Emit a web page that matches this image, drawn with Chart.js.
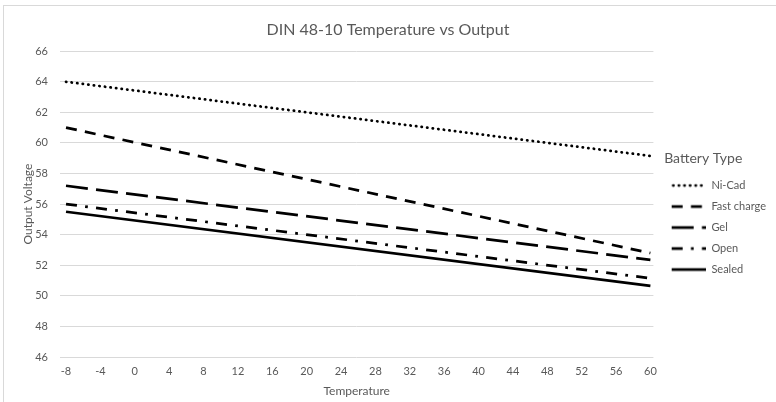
<!DOCTYPE html>
<html>
<head>
<meta charset="utf-8">
<script src="https://cdn.jsdelivr.net/npm/chart.js@4.4.1/dist/chart.umd.min.js"></script>
<style>
    html, body { margin: 0; padding: 0; background: #fff; }
    #wrap { position: relative; width: 776px; height: 402px; overflow: hidden; }
    #frame { position: absolute; left: 3px; top: 5px; width: 800px; height: 420px;
             border-left: 1px solid #d9d9d9; border-top: 1px solid #d9d9d9; }
    #grafico { position: absolute; left: 0; top: 0; }
</style>
</head>
<body>
<div id="wrap">
    <div id="frame"></div>
    <canvas id="grafico" width="776" height="402"></canvas>
</div>
<script>
// ==========================================
// DIN 48-10 Temperature vs Output
// ==========================================

const temperature = [-8, 60];
const xTicks = [-8, -4, 0, 4, 8, 12, 16, 20, 24, 28, 32, 36, 40, 44, 48, 52, 56, 60];

const niCad = [64, 59.15];
const fastCharge = [61, 52.8];
const gel = [57.2, 52.35];
const open = [56, 51.15];
const sealed = [55.5, 50.65];

const grey = "#595959";
const fontFam = "Lato, 'Open Sans', sans-serif";
const lw = 2.75;

function pts(values) {
    return values.map((v, i) => ({ x: temperature[i], y: v }));
}

// small picture of the line style for the legend
function sample(dash, cap) {
    const c = document.createElement("canvas");
    c.width = 42;
    c.height = 8;
    const g = c.getContext("2d");
    g.strokeStyle = "#000";
    g.lineWidth = lw;
    g.lineCap = cap;
    g.setLineDash(dash);
    g.beginPath();
    g.moveTo(cap === "round" ? 9.5 : 8, 4);
    g.lineTo(42, 4);
    g.stroke();
    return c;
}

function serie(label, values, dash, cap) {
    cap = cap || "butt";
    return {
        label: label,
        data: pts(values),
        borderColor: "#000",
        backgroundColor: "#000",
        borderWidth: lw,
        borderDash: dash,
        borderCapStyle: cap,
        pointRadius: 0,
        pointStyle: sample(dash, cap),
        tension: 0
    };
}

const ctx = document.getElementById("grafico");

new Chart(ctx, {
    type: "line",
    data: {
        datasets: [
            serie("Ni-Cad", niCad, [0.3, 5.3], "round"),
            serie("Fast charge", fastCharge, [11, 8.25]),
            serie("Gel", gel, [22, 8.25]),
            serie("Open", open, [11, 8.25, 2.75, 8.25]),
            serie("Sealed", sealed, [])
        ]
    },
    options: {
        responsive: false,
        animation: false,
        layout: {
            padding: { top: 8, right: 0, bottom: 0, left: 0 }
        },
        plugins: {
            title: {
                display: true,
                text: "DIN 48-10 Temperature vs Output",
                color: grey,
                font: { family: fontFam, size: 16, weight: "normal" },
                padding: { top: 12, bottom: 12 }
            },
            legend: {
                position: "right",
                title: {
                    display: true,
                    position: "start",
                    text: "   Battery Type",
                    color: grey,
                    font: { family: fontFam, size: 14 },
                    padding: { top: 26, bottom: 2 }
                },
                labels: {
                    usePointStyle: true,
                    pointStyleWidth: 42.5,
                    boxHeight: 8,
                    color: grey,
                    padding: 10,
                    font: { family: fontFam, size: 11 }
                }
            },
            tooltip: { enabled: false }
        },
        scales: {
            x: {
                type: "linear",
                min: -8.7,
                max: 60.35,
                afterBuildTicks: (axis) => {
                    axis.ticks = xTicks.map(v => ({ value: v }));
                },
                afterFit: (axis) => { axis.height = 45; },
                border: { display: false },
                grid: { display: false, drawTicks: false },
                ticks: {
                    color: grey,
                    padding: 8,
                    maxRotation: 0,
                    autoSkip: false,
                    font: { family: fontFam, size: 11 }
                },
                title: {
                    display: true,
                    text: "Temperature",
                    color: grey,
                    font: { family: fontFam, size: 12 },
                    padding: { top: 0, bottom: 4 }
                }
            },
            y: {
                min: 46,
                max: 66,
                afterFit: (axis) => { axis.width = 60; },
                border: { display: false },
                grid: { color: "#d9d9d9", lineWidth: 1, drawTicks: false },
                ticks: {
                    stepSize: 2,
                    color: grey,
                    padding: 12,
                    font: { family: fontFam, size: 11 }
                },
                title: {
                    display: true,
                    text: "Output Voltage",
                    color: grey,
                    font: { family: fontFam, size: 12 },
                    padding: { top: 21, bottom: 0 }
                }
            }
        }
    }
});
</script>
</body>
</html>
